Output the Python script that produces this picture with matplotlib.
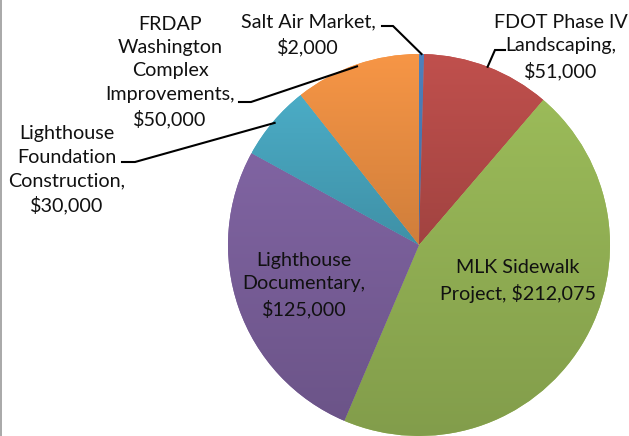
import numpy as np
import matplotlib
matplotlib.use("Agg")
import matplotlib.pyplot as plt
from matplotlib.colors import to_rgb
from matplotlib.lines import Line2D

# data
labels = ["Salt Air Market", "FDOT Phase IV Landscaping", "MLK Sidewalk Project",
          "Lighthouse Documentary", "Lighthouse Foundation Construction",
          "FRDAP Washington Complex Improvements"]
values = [2000, 51000, 212075, 125000, 30000, 50000]
label_texts = ["Salt Air Market,\n$2,000",
               "FDOT Phase IV\nLandscaping,\n$51,000",
               "MLK Sidewalk\nProject, $212,075",
               "Lighthouse\nDocumentary,\n$125,000",
               "Lighthouse\nFoundation\nConstruction,\n$30,000",
               "FRDAP\nWashington\nComplex\nImprovements,\n$50,000"]
colors = ["#4F81BD", "#C0504D", "#9BBB59", "#8064A2", "#4BACC6", "#F79646"]

W, H = 629, 436
cx, cy, R = 419, 245, 191  # pie centre / radius in pixels


def px(x, y):
    # pixel (from top-left) -> data units
    return (x - cx) / R, (cy - y) / R


fig = plt.figure(figsize=(W / 100, H / 100), dpi=100)
ax = fig.add_axes([0, 0, 1, 1])

wedges, _ = ax.pie(values, colors=colors, startangle=90, counterclock=False,
                   radius=1, center=(0, 0), frame=True,
                   wedgeprops=dict(linewidth=0))

# excel-like vertical shading on each slice
for w, c in zip(wedges, colors):
    base = np.array(to_rgb(c))
    top = np.clip(base * 1.0, 0, 1)
    bot = base * 0.84
    t = np.linspace(0, 1, 256)[:, None]
    grad = top * (1 - t)[..., None] + bot * t[..., None]
    grad = np.repeat(grad, 2, axis=1)
    ext = w.get_path().get_extents(w.get_patch_transform())
    im = ax.imshow(grad, extent=[ext.x0, ext.x1, ext.y0, ext.y1],
                   origin="upper", aspect="auto", zorder=w.get_zorder() + 0.1)
    im.set_clip_path(w)
ax.set_xlim(-cx / R, (W - cx) / R)
ax.set_ylim(-(H - cy) / R, cy / R)
ax.axis("off")

font = dict(family=["Lato", "DejaVu Sans"], fontsize=14.2, color="#111111",
            linespacing=1.45, ha="center", va="center")

# mid-angles for leader lines
total = sum(values)
cum = np.cumsum([0] + values)
mid = [np.deg2rad(90 - (cum[i] + values[i] / 2) / total * 360) for i in range(len(values))]


def edge(i, r=1.0):
    return r * np.cos(mid[i]), r * np.sin(mid[i])


def leader(i, p0, p1, r=1.0):
    x0, y0 = px(*p0)
    x1, y1 = px(*p1)
    ex, ey = edge(i, r)
    ax.plot([x0, x1, ex], [y0, y1, ey], color="black", lw=1.5, zorder=5,
            solid_joinstyle="miter")


# Salt Air Market
ax.text(*px(308, 35), label_texts[0], **font)
leader(0, (382, 26), (393, 26))

# FDOT
ax.text(*px(561, 47), label_texts[1], **font)
leader(1, (505, 50), (495, 50))

# MLK
ax.text(*px(518, 281), label_texts[2], **font)

# Lighthouse Documentary
ax.text(*px(304, 285), label_texts[3], **font)

# Lighthouse Foundation
ax.text(*px(67, 170), label_texts[4], **font)
leader(4, (122, 162), (135, 162), 0.99)

# FRDAP
ax.text(*px(170, 72), label_texts[5], **font)
leader(5, (239, 102), (251, 102), 0.99)

# left border of the chart area
fig.add_artist(Line2D([0.8 / W, 0.8 / W], [0, 1], color="#9a9a9a", lw=1.2,
                      transform=fig.transFigure))

fig.savefig("out.png", dpi=100, facecolor="white")
